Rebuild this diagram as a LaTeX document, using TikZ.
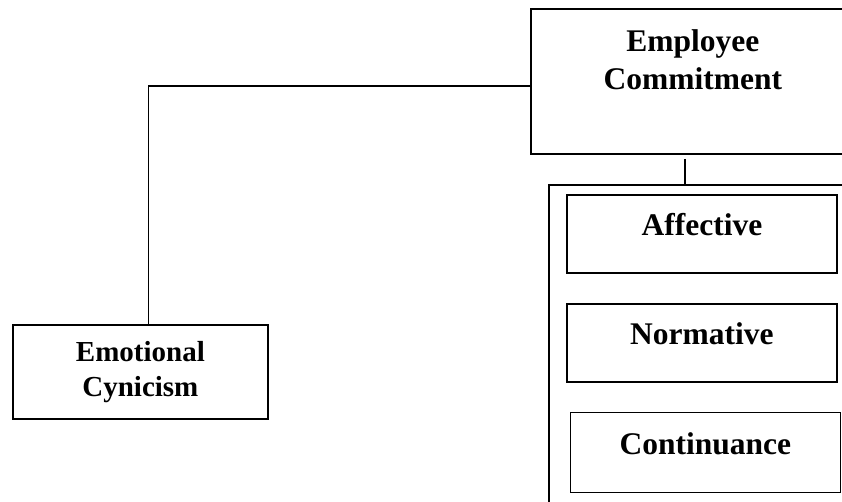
\documentclass[tikz,border=0pt]{standalone}
\usepackage{fontspec}
\setmainfont{Liberation Serif}
\usepackage{tikz}
\usetikzlibrary{positioning}
\tikzset{
  dimbox/.style={
    rectangle, draw=black, line width=1.8pt,
    inner sep=0pt, align=center,
    font=\bfseries\fontsize{31.5}{38}\selectfont
  },
  onebox/.style={
    dimbox, minimum width=270pt, minimum height=78pt,
    text height=22pt, text depth=18.6pt
  },
  groupbox/.style={
    rectangle, draw=black, line width=1.8pt, inner sep=0pt
  },
  link/.style={
    line width=1.6pt, color=black
  }
}

\begin{document}
\begin{tikzpicture}[x=1pt, y=-1pt]

  \useasboundingbox (0,0) rectangle (842,501);
  \clip (0,0) rectangle (842,501);

  % main construct (cut at right edge)
  \node[dimbox, anchor=north west, minimum width=324pt, minimum height=145pt,
        text height=60pt, text depth=43.8pt] (commit) at (530,8)
        {Employee\\Commitment};

  % independent variable
  \node[dimbox, anchor=north west, minimum width=255pt, minimum height=94pt,
        font=\bfseries\fontsize{29}{35}\selectfont] (cynic) at (12,324)
        {Emotional\\Cynicism};

  % group of dimensions
  \node[groupbox, anchor=north west, minimum width=330pt, minimum height=340pt]
        (dims) at (548,184) {};
  \node[onebox, anchor=north west] (affect) at (566,194) {Affective};
  \node[onebox, below=29pt of affect] (norm) {Normative};
  \node[onebox, below=29pt of norm, xshift=3.5pt, minimum height=80pt] (cont) {Continuance};

  % connectors
  \draw[link] ([yshift=-4.5pt]commit.west) -| ([xshift=8pt]cynic.north);
  \draw[link] ([xshift=-8pt, yshift=-4pt]commit.south)
              -- ([xshift=-8pt]commit.south |- dims.north);

\end{tikzpicture}
\end{document}
